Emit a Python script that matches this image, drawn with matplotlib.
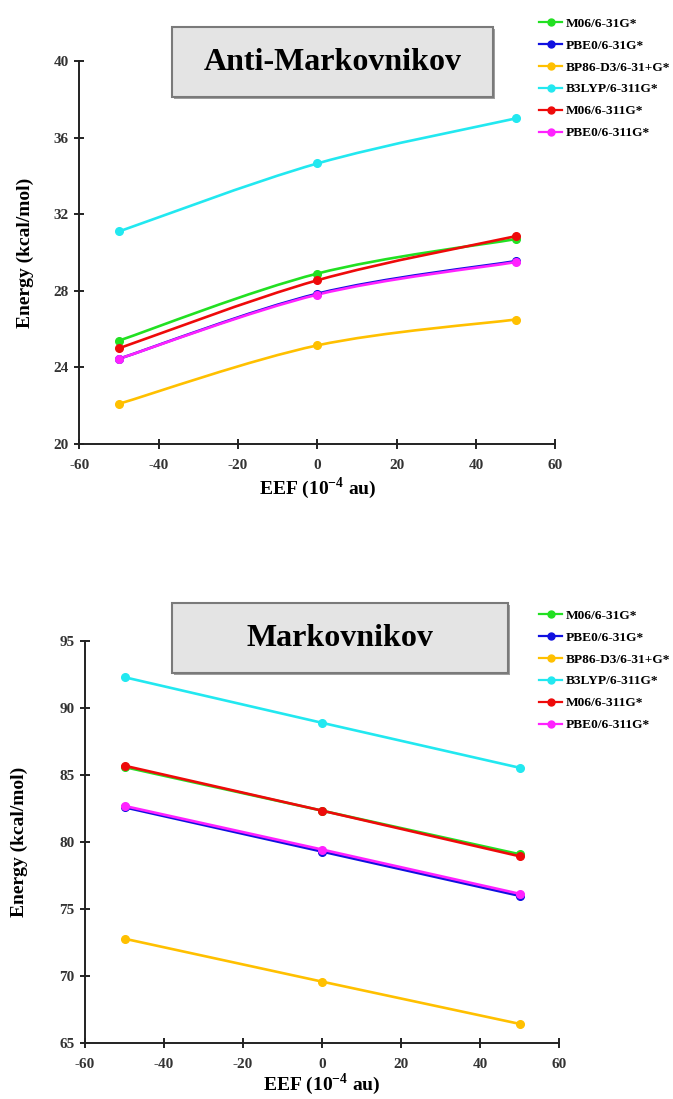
import numpy as np
import matplotlib
matplotlib.use("Agg")
import matplotlib.pyplot as plt
from matplotlib.path import Path
from matplotlib.patches import PathPatch, Rectangle
from matplotlib.lines import Line2D

plt.rcParams['font.family'] = ['Liberation Serif', 'DejaVu Serif']
plt.rcParams['axes.unicode_minus'] = False
plt.rcParams['mathtext.fontset'] = 'custom'
plt.rcParams['mathtext.rm'] = 'Liberation Serif:bold'
plt.rcParams['mathtext.bf'] = 'Liberation Serif:bold'

eef = [-50, 0, 50]
methods = ["M06/6-31G*", "PBE0/6-31G*", "BP86-D3/6-31+G*", "B3LYP/6-311G*", "M06/6-311G*", "PBE0/6-311G*"]
colors = ["#22e022", "#1010e0", "#ffc000", "#22e8f0", "#ee0a0a", "#ff22ff"]

anti_m06_31 = [25.4, 28.9, 30.7]
anti_pbe0_31 = [24.45, 27.85, 29.55]
anti_bp86 = [22.1, 25.15, 26.5]
anti_b3lyp = [31.1, 34.65, 37.0]
anti_m06_311 = [25.0, 28.55, 30.85]
anti_pbe0_311 = [24.45, 27.8, 29.5]

mark_m06_31 = [85.6, 82.35, 79.1]
mark_pbe0_31 = [82.6, 79.3, 76.0]
mark_bp86 = [72.8, 69.6, 66.45]
mark_b3lyp = [92.3, 88.9, 85.55]
mark_m06_311 = [85.7, 82.35, 78.95]
mark_pbe0_311 = [82.7, 79.45, 76.15]

anti = [anti_m06_31, anti_pbe0_31, anti_bp86, anti_b3lyp, anti_m06_311, anti_pbe0_311]
mark = [mark_m06_31, mark_pbe0_31, mark_bp86, mark_b3lyp, mark_m06_311, mark_pbe0_311]

W, H = 673, 1099
fig = plt.figure(figsize=(W / 100, H / 100), dpi=100)


def fx(px):
    return px / W


def fy(py):
    return 1 - py / H


def smooth_path(x, y):
    # Bezier (Catmull-Rom style) smoothing like spreadsheet "smoothed line"
    pts = np.column_stack([x, y]).astype(float)
    n = len(pts)
    verts = [pts[0]]
    codes = [Path.MOVETO]
    for i in range(n - 1):
        p0 = pts[i - 1] if i > 0 else pts[i]
        p1 = pts[i]
        p2 = pts[i + 1]
        p3 = pts[i + 2] if i + 2 < n else pts[i + 1]
        c1 = p1 + (p2 - p0) / 6.0
        c2 = p2 - (p3 - p1) / 6.0
        verts += [c1, c2, p2]
        codes += [Path.CURVE4] * 3
    return Path(verts, codes)


def style_axes(ax, ylim, yticks, xlabelpad):
    ax.set_xlim(-60, 60)
    ax.set_xticks(range(-60, 61, 20))
    ax.set_ylim(*ylim)
    ax.set_yticks(yticks)
    for s in ['top', 'right']:
        ax.spines[s].set_visible(False)
    for s in ['left', 'bottom']:
        ax.spines[s].set_linewidth(1.4)
        ax.spines[s].set_color('#222222')
    ax.tick_params(direction='inout', length=7, width=1.4, color='#222222',
                   labelsize=11, pad=4)
    ax.tick_params(axis='x', pad=7)
    for lab in ax.get_xticklabels() + ax.get_yticklabels():
        lab.set_fontweight('bold')
        lab.set_color('#333333')
    ax.set_ylabel("Energy (kcal/mol)", fontsize=14, fontweight='bold', labelpad=12)
    ax.set_xlabel(r"EEF (10$^{\mathrm{-4}}$ au)", fontsize=14, fontweight='bold',
                  labelpad=xlabelpad)


def title_box(x0, y0, x1, y1, text):
    sh = Rectangle((fx(x0) + 2 / W, fy(y1) - 2 / H), fx(x1) - fx(x0), fy(y0) - fy(y1),
                   transform=fig.transFigure, facecolor='#a0a0a0', edgecolor='none', zorder=5)
    fig.patches.append(sh)
    r = Rectangle((fx(x0), fy(y1)), fx(x1) - fx(x0), fy(y0) - fy(y1),
                  transform=fig.transFigure, facecolor='#e4e4e4', edgecolor='#7a7a7a',
                  linewidth=1.5, zorder=6)
    fig.patches.append(r)
    fig.text((fx(x0) + fx(x1)) / 2, (fy(y0) + fy(y1)) / 2, text, ha='center', va='center',
             fontsize=23, fontweight='bold', zorder=7)


# top: Anti-Markovnikov
ax1 = fig.add_axes([fx(79.4), fy(444), fx(555.3) - fx(79.4), fy(61) - fy(444)])
handles = []
for vals, c, lab in zip(anti, colors, methods):
    p = smooth_path(eef, vals)
    ax1.add_patch(PathPatch(p, facecolor='none', edgecolor=c, lw=1.9, zorder=2))
    ax1.plot(eef, vals, linestyle='none', marker='o', ms=5.5, color=c, zorder=3)
    handles.append(Line2D([], [], color=c, lw=1.6, marker='o', ms=5, label=lab))
style_axes(ax1, (20, 40), range(20, 41, 4), 3)
ax1.yaxis.set_label_coords(-0.095, 0.5)

# bottom: Markovnikov
ax2 = fig.add_axes([fx(85), fy(1043.3), fx(559) - fx(85), fy(641) - fy(1043.3)])
for vals, c, lab in zip(mark, colors, methods):
    ax2.plot(eef, vals, color=c, lw=1.9, marker='o', ms=5.5)
style_axes(ax2, (65, 95), range(65, 96, 5), 0)
ax2.yaxis.set_label_coords(-0.12, 0.5)

leg_kw = dict(frameon=False, prop={'weight': 'bold', 'size': 9.6},
              handlelength=1.7, handletextpad=0.3, labelspacing=0.72, borderaxespad=0)
fig.legend(handles=handles, loc='upper left', bbox_to_anchor=(fx(534), fy(12)), **leg_kw)
fig.legend(handles=handles, loc='upper left', bbox_to_anchor=(fx(534), fy(604)), **leg_kw)

title_box(171.7, 27.3, 493.3, 96.7, "Anti-Markovnikov")
title_box(171.7, 603.3, 508.3, 673.3, "Markovnikov")

fig.savefig("out.png", dpi=100)
